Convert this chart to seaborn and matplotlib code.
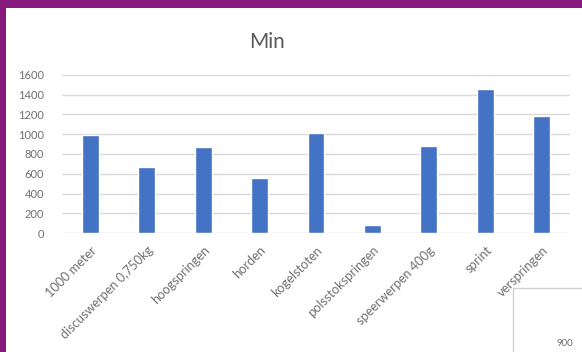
import matplotlib
matplotlib.use("Agg")
import matplotlib.pyplot as plt
import seaborn as sns
import pandas as pd
from matplotlib.patches import Rectangle
from matplotlib.lines import Line2D

# Minimum scores per event
events = ["1000 meter", "discuswerpen 0,750kg", "hoogspringen", "horden",
          "kogelstoten", "polsstokspringen", "speerwerpen 400g", "sprint",
          "verspringen"]
min_scores = [995, 668, 875, 557, 1012, 85, 885, 1456, 1180]
y_ticks = [0, 200, 400, 600, 800, 1000, 1200, 1400, 1600]

df = pd.DataFrame({"onderdeel": events, "min": min_scores})

sns.set_theme(style="white")
plt.rcParams["font.family"] = ["Lato", "DejaVu Sans"]

fig = plt.figure(figsize=(5.82, 3.52), dpi=100)
fig.patch.set_facecolor("white")

ax = fig.add_axes([62 / 582, 0.338, (570 - 62) / 582, 0.787 - 0.338])
sns.barplot(data=df, x="onderdeel", y="min", color="#4472C4", saturation=1,
            width=0.3, ax=ax, zorder=3)

ax.set_ylim(0, 1600)
ax.set_yticks(y_ticks)
ax.set_yticklabels([str(t) for t in y_ticks])
ax.grid(axis="y", color="#d9d9d9", linewidth=1, zorder=0)
ax.grid(axis="x", visible=False)
for s in ax.spines.values():
    s.set_visible(False)
ax.set_xlabel("")
ax.set_ylabel("")
ax.tick_params(axis="both", length=0, colors="#707070")
ax.tick_params(axis="y", pad=13, labelsize=8)
ax.tick_params(axis="x", pad=8, labelsize=9.2)
plt.setp(ax.get_xticklabels(), rotation=45, ha="right", rotation_mode="anchor")

fig.text(267 / 582, 1 - 42 / 352, "Min", ha="center", va="center",
         fontsize=15, color="#595959")

# Purple window frame along the top and left edge
fig.patches.append(Rectangle((0, 1 - 8 / 352), 1, 8 / 352, transform=fig.transFigure,
                             facecolor="#861a7c", edgecolor="none", zorder=10))
fig.patches.append(Rectangle((0, 0), 6 / 582, 1, transform=fig.transFigure,
                             facecolor="#861a7c", edgecolor="none", zorder=10))

# Corner of the next chart peeking in at the bottom right
bx, by = 513 / 582, 1 - 288 / 352
fig.lines.append(Line2D([bx, bx], [0, by], transform=fig.transFigure,
                        color="#d0d0d0", linewidth=1))
fig.lines.append(Line2D([bx, 1], [by, by], transform=fig.transFigure,
                        color="#d0d0d0", linewidth=1))
fig.text(565 / 582, 1 - 344 / 352, "900", ha="center", va="center",
         fontsize=7, color="#707070")

fig.savefig("out.png", dpi=100)
